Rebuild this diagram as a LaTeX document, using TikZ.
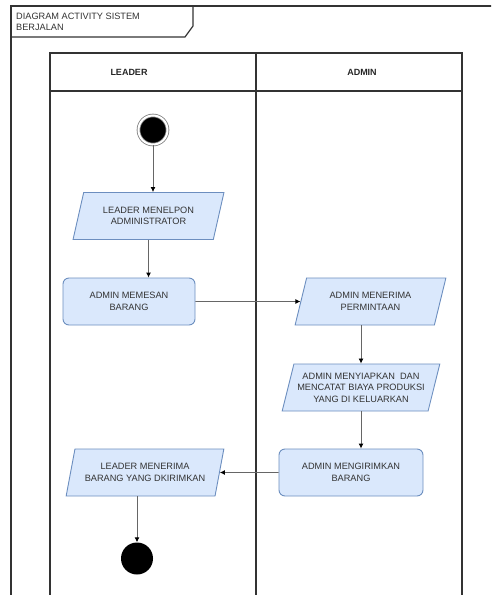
\documentclass[tikz,border=0pt]{standalone}
\usepackage{fontspec}
\setmainfont{Liberation Sans}
\usepackage{xcolor}
\usepackage{tikz}
\usetikzlibrary{positioning}
\usetikzlibrary{arrows.meta}
\usetikzlibrary{shapes.geometric}

\definecolor{actfill}{HTML}{DAE8FC}
\definecolor{actdraw}{HTML}{6C8EBF}
\definecolor{framegray}{HTML}{333333}

\begin{document}
\begin{tikzpicture}[font=\fontsize{9.2}{11.5}\selectfont,
framebox/.style={draw=framegray, line width=1.2pt},
lanehead/.style={font=\fontsize{9}{11}\selectfont\bfseries, text=black!85},
startnode/.style={circle, fill=black, draw=gray, double=white, double distance=2pt, line width=0.8pt, minimum size=29pt, inner sep=0pt},
endnode/.style={circle, fill=black, minimum size=32pt, inner sep=0pt},
ioaction/.style={trapezium, trapezium left angle=72, trapezium right angle=108, trapezium stretches=true, draw=actdraw, fill=actfill, line width=0.9pt, text=black!80, align=center, minimum height=47pt},
action/.style={rectangle, rounded corners=6pt, draw=actdraw, fill=actfill, line width=0.9pt, text=black!80, align=center, minimum height=47pt},
flow/.style={draw=black!60, line width=0.9pt, -{Latex[length=5pt, width=5pt, color=black]}},
]
\useasboundingbox (0pt,0pt) rectangle (491pt,-595pt);
\clip (0pt,0pt) rectangle (491pt,-595pt);
% \draw[help lines,step=20pt,gray!20] (0,0) grid (491pt,-595pt);
%Frame
\draw[framebox] (11pt,-6pt) rectangle (520pt,-620pt);
\draw[framebox] (11pt,-37pt) -- (185pt,-37pt) -- (193pt,-26pt) -- (193pt,-6pt);
\node[anchor=base west, inner sep=0pt, align=left, text=black!80] (title) at (16pt,-30.5pt) {DIAGRAM ACTIVITY SISTEM\\BERJALAN};
%Lanes
\draw[framebox] (50pt,-53pt) rectangle (462pt,-620pt);
\draw[framebox] (50pt,-91pt) -- (462pt,-91pt);
\draw[framebox] (256pt,-53pt) -- (256pt,-620pt);
\node[lanehead] (leaderlane) at (129pt,-72pt) {LEADER};
\node[lanehead] (adminlane) at (362pt,-72pt) {ADMIN};
%Nodes
\node[startnode]                        (start)   at (153pt,-130pt)   {};
\node[ioaction, minimum width=151pt]    (call)    at (148.5pt,-216pt) {LEADER MENELPON\\ADMINISTRATOR};
\node[action, minimum width=132pt]      (order)   at (129pt,-301.5pt) {ADMIN MEMESAN\\BARANG};
\node[ioaction, minimum width=151pt]    (receive) at (370.5pt,-301.5pt) {ADMIN MENERIMA\\PERMINTAAN};
\node[ioaction, minimum width=158pt]    (prepare) at (361pt,-387.5pt) {ADMIN MENYIAPKAN\ \ DAN\\MENCATAT BIAYA PRODUKSI\\YANG DI KELUARKAN};
\node[action, minimum width=144pt]      (send)    at (351pt,-472.5pt) {ADMIN MENGIRIMKAN\\BARANG};
\node[ioaction, minimum width=158pt]    (accept)  at (145pt,-472.5pt) {LEADER MENERIMA\\BARANG YANG DKIRIMKAN};
\node[endnode]                          (finish)  at (137pt,-558.5pt) {};
%Lines
\draw[flow] (start.south) -- (start.south |- call.north);
\draw[flow] (call.south) -- (call.south |- order.north);
\draw[flow] (order.east) -- (receive.west);
\draw[flow] (prepare.north |- receive.south) -- (prepare.north);
\draw[flow] (prepare.south) -- (prepare.south |- send.north);
\draw[flow] (send.west) -- (accept.east);
\draw[flow] (finish.north |- accept.south) -- (finish.north);
\end{tikzpicture}
\end{document}
